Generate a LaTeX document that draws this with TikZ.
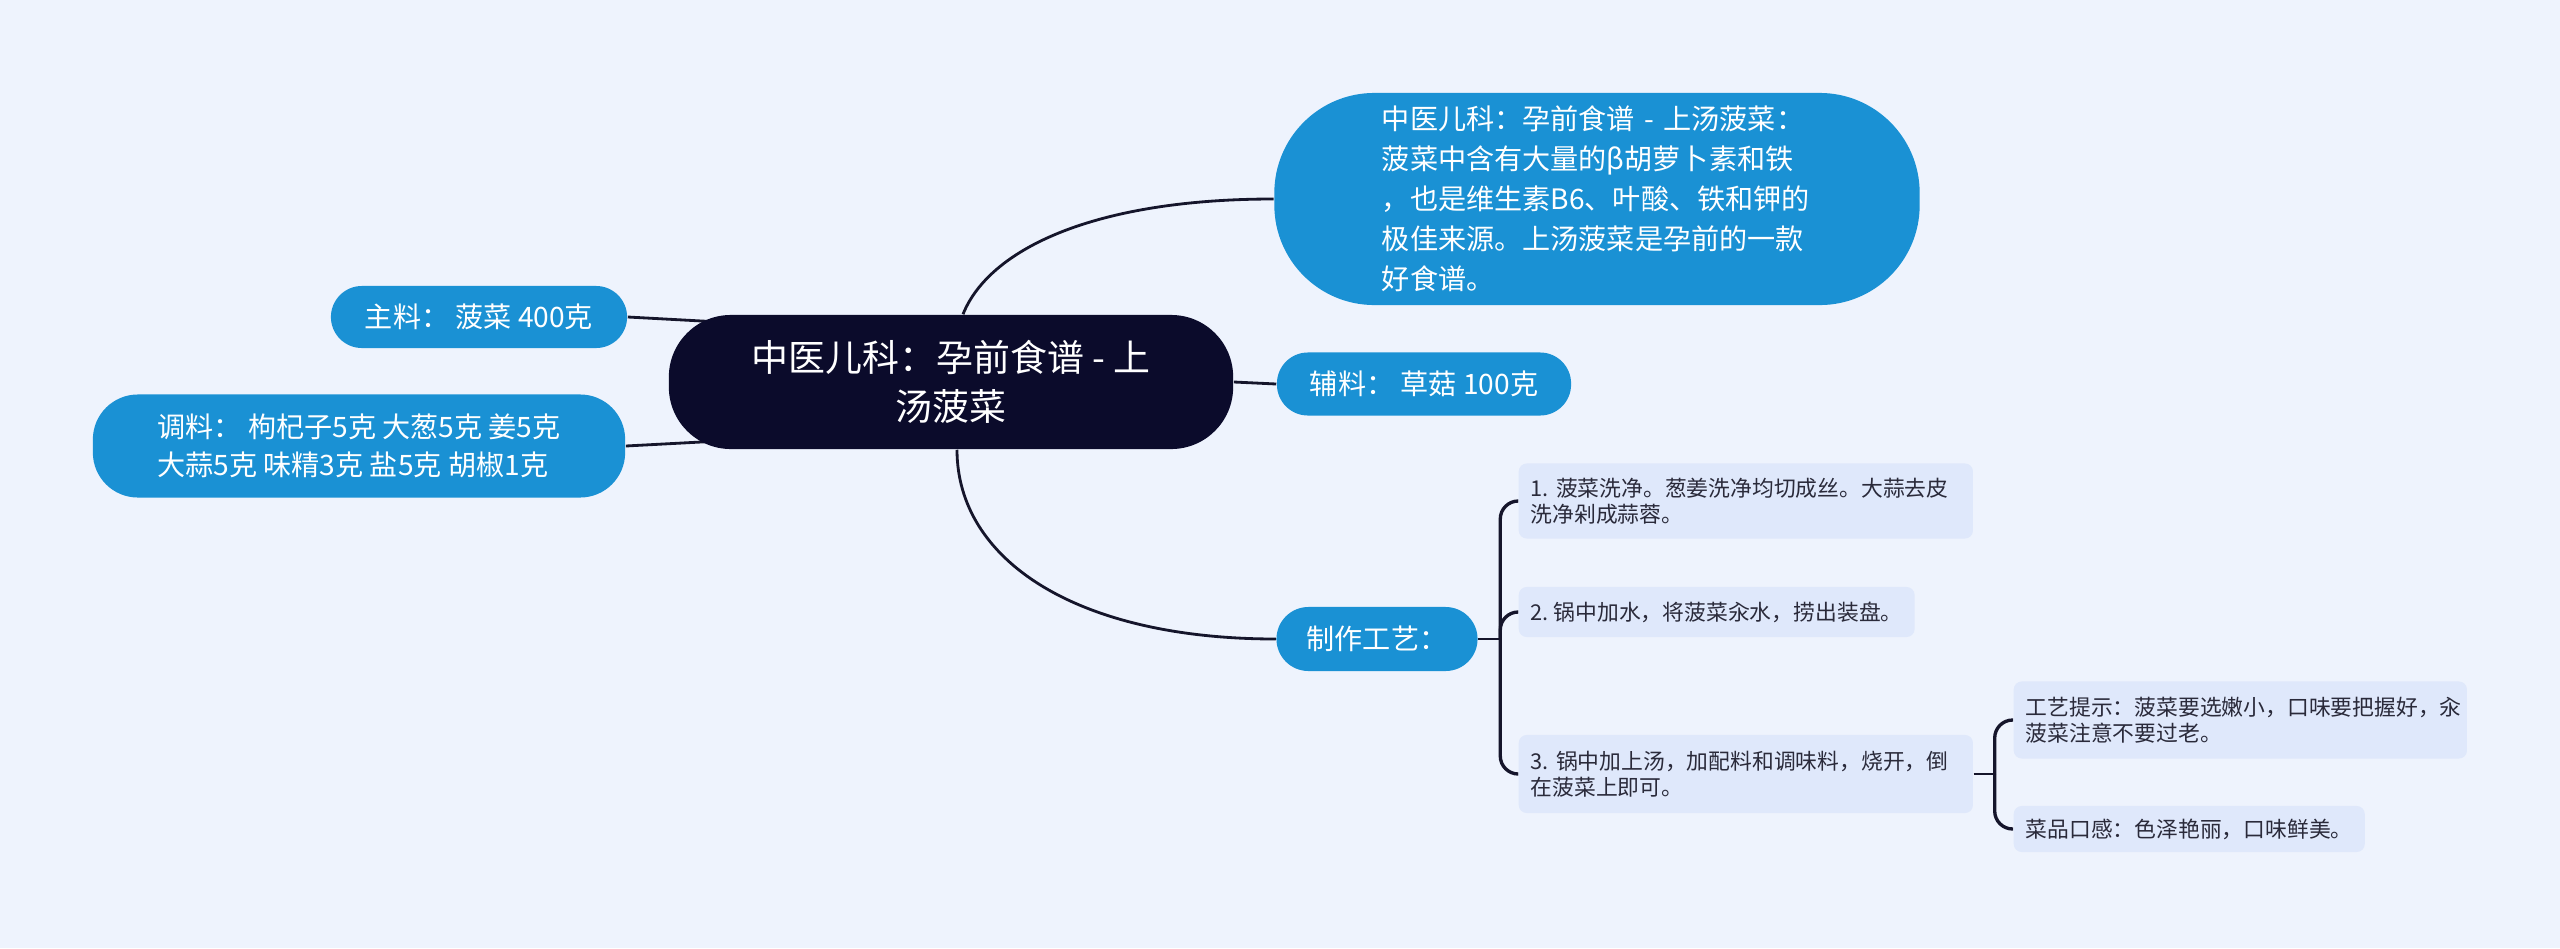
\documentclass[tikz,border=0pt]{standalone}
\usepackage{fontspec}
\setmainfont{Noto Sans CJK SC}
\frenchspacing
\usetikzlibrary{backgrounds}
\definecolor{bgcol}{HTML}{EEF3FD}
\definecolor{rootcol}{HTML}{0B0B2B}
\definecolor{bluecol}{HTML}{1A91D4}
\definecolor{stepcol}{HTML}{DFE8FB}
\definecolor{linecol}{HTML}{15152B}
\definecolor{textcol}{HTML}{2A2A3A}

\begin{document}
\begin{tikzpicture}[
			x=0.01cm, y=-0.01cm,
			rootbox/.style={
				fill=rootcol,
				text=white,
				rounded corners=0.62cm,
				align=center,
				font=\fontsize{10.5}{14}\selectfont,
				minimum width=5.64cm,
				minimum height=1.34cm
			},
			topic/.style={fill=bluecol,text=white,inner sep=0pt,font=\fontsize{8}{11.4}\selectfont},
			leaf/.style={
				fill=stepcol,
				text=textcol,
				rounded corners=0.08cm,
				anchor=west,
				align=left,
				inner xsep=0.12cm,
				inner ysep=0pt,
				font=\fontsize{6.2}{7.4}\selectfont
			},
			link/.style={draw=linecol,line width=0.8pt},
			bracket/.style={link,line width=0.95pt,rounded corners=0.18cm}
			]
			
			\useasboundingbox (0,0) rectangle (2560,948);
			
			\node[rootbox] (root) at (951,382) {中医儿科：孕前食谱 - 上\\汤菠菜};
			
			\node[topic,rounded corners=1cm,minimum width=6.45cm,minimum height=2.12cm,text width=4.3cm,align=left]
			(summary) at (1597,199)
			{中医儿科：孕前食谱 - 上汤菠菜：\\菠菜中含有大量的β胡萝卜素和铁\\，也是维生素B6、叶酸、铁和钾的\\极佳来源。上汤菠菜是孕前的一款\\好食谱。};
			\node[topic,rounded corners=0.31cm,minimum width=2.96cm,minimum height=0.62cm] (zhuliao) at (479,317) {主料：\ 菠菜 400克};
			\node[topic,rounded corners=0.45cm,minimum width=5.32cm,minimum height=1.03cm,align=left,font=\fontsize{8}{10.7}\selectfont]
			(tiaoliao) at (359,446) {调料：\ 枸杞子5克 大葱5克 姜5克\\大蒜5克 味精3克 盐5克 胡椒1克};
			\node[topic,rounded corners=0.31cm,minimum width=2.94cm,minimum height=0.63cm] (fuliao) at (1424,384) {辅料：\ 草菇 100克};
			\node[topic,rounded corners=0.32cm,minimum width=2.01cm,minimum height=0.64cm] (zhizuo) at (1377,639) {制作工艺：};
			
			\node[leaf,text width=4.3cm,minimum height=0.75cm] (step1) at (1518,501) {1. 菠菜洗净。葱姜洗净均切成丝。大蒜去皮\\洗净剁成蒜蓉。};
			\node[leaf,minimum height=0.5cm] (step2) at (1518,612) {2. 锅中加水，将菠菜汆水，捞出装盘。};
			\node[leaf,text width=4.3cm,minimum height=0.78cm] (step3) at (1518,774) {3. 锅中加上汤，加配料和调味料，烧开，倒\\在菠菜上即可。};
			\node[leaf,text width=4.29cm,minimum height=0.77cm] (tip1) at (2013,720) {工艺提示：菠菜要选嫩小，口味要把握好，汆\\菠菜注意不要过老。};
			\node[leaf,minimum height=0.46cm] (tip2) at (2013,829) {菜品口感：色泽艳丽，口味鲜美。};
			
			\coordinate (rootL1) at (720,322);
			\coordinate (rootL2) at (720,441);
			\coordinate (hubA) at ([xshift=0.22cm]zhizuo.east);
			\coordinate (hubB) at ([xshift=0.21cm]step3.east);
			
			\begin{scope}[on background layer]
				\fill[bgcol] (0,0) rectangle (2560,948);
				
				\draw[link] ([xshift=0.12cm]root.north) .. controls +(26,-65) and +(-180,0) .. (summary.west);
				\draw[link] ([xshift=0.06cm]root.south) .. controls +(0,110) and +(-200,0) .. (zhizuo.west);
				\draw[link] (root.east) -- (fuliao.west);
				\draw[link] (zhuliao.east) -- (rootL1);
				\draw[link] (tiaoliao.east) -- (rootL2);
				
				\draw[link] (zhizuo.east) -- (hubA);
				\draw[bracket] (hubA) |- (step1.west);
				\draw[bracket] (hubA) |- (step2.west);
				\draw[bracket] (hubA) |- (step3.west);
				
				\draw[link] (step3.east) -- (hubB);
				\draw[bracket] (hubB) |- (tip1.west);
				\draw[bracket] (hubB) |- (tip2.west);
			\end{scope}
			
		\end{tikzpicture}
\end{document}
